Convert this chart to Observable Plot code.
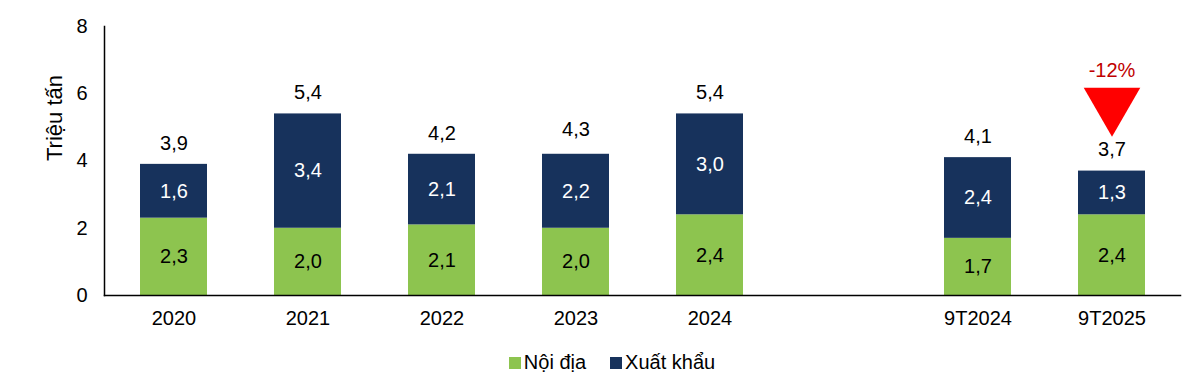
<!DOCTYPE html>
<html>
<head>
<meta charset="utf-8">
<script src="https://cdn.jsdelivr.net/npm/d3@7"></script>
<script src="https://cdn.jsdelivr.net/npm/@observablehq/plot@0.6"></script>
<style>
  html, body { margin: 0; padding: 0; background: #fff; }
  body { width: 1200px; height: 383px; overflow: hidden; font-family: "Liberation Sans", Arial, sans-serif; }
  #legend { display: flex; justify-content: center; gap: 24px; font-size: 20px; color: #000; margin-top: 16px; padding-left: 24px; }
  #legend span.item { display: flex; align-items: center; gap: 3px; }
  #legend span.sw { width: 12px; height: 12px; display: inline-block; }
</style>
</head>
<body>
<div id="chart"></div>
<div id="legend"></div>
<script>
const categories = ["2020", "2021", "2022", "2023", "2024", "9T2024", "9T2025"];
const gapAfter = "2024";
const series = ["Nội địa", "Xuất khẩu"];
const seriesColors = ["#8DC44F", "#17325C"];
const labelColors = ["#000000", "#FFFFFF"];
const noiDia = [2.3, 2.0, 2.1, 2.0, 2.4, 1.7, 2.4];
const xuatKhau = [1.6, 3.4, 2.1, 2.2, 3.0, 2.4, 1.3];
const totals = [3.9, 5.4, 4.2, 4.3, 5.4, 4.1, 3.7];
const yTicks = [0, 2, 4, 6, 8];
const yLabel = "Triệu tấn";
const changeLabel = "-12%";
const changeCategory = "9T2025";

const GAP = "__gap__";
const domain = [];
categories.forEach(c => { domain.push(c); if (c === gapAfter) domain.push(GAP); });

const rows = [];
categories.forEach((c, i) => {
  rows.push({cat: c, series: series[0], value: noiDia[i]});
  rows.push({cat: c, series: series[1], value: xuatKhau[i]});
});
const totalRows = categories.map((c, i) => ({cat: c, total: totals[i]}));
const changeRows = totalRows.filter(d => d.cat === changeCategory);
const fmt = v => v.toFixed(1).replace(".", ",");

const chart = Plot.plot({
  width: 1200,
  height: 335,
  marginLeft: 104,
  marginRight: 20,
  marginTop: 26,
  marginBottom: 40,
  style: {fontFamily: "Liberation Sans, Arial, sans-serif", fontSize: "20px", color: "#000", background: "#fff"},
  x: {domain, paddingInner: 0.5, paddingOuter: 0.25, label: null},
  y: {domain: [0, 8], label: null},
  color: {domain: series, range: seriesColors},
  marks: [
    Plot.barY(rows, {x: "cat", y: "value", fill: "series", order: series}),
    Plot.text(rows, Plot.stackY({x: "cat", y: "value", z: "series", order: series,
      text: d => fmt(d.value),
      fill: d => labelColors[series.indexOf(d.series)],
      fontSize: 20})),
    Plot.text(totalRows, {x: "cat", y: "total", text: d => fmt(d.total), dy: -21, fontSize: 20, fill: "#000"}),
    Plot.dot(changeRows, {x: "cat", y: "total", symbol: "triangle", rotate: 180, r: 21, fill: "#FF0000", stroke: null, dy: -67}),
    Plot.text(changeRows, {x: "cat", y: "total", text: () => changeLabel, dy: -100, fontSize: 20, fill: "#C00000"}),
    Plot.axisX({tickSize: 0, tickPadding: 15, fontSize: 20, tickFormat: d => d === GAP ? "" : d, label: null}),
    Plot.axisY({ticks: yTicks, tickSize: 0, tickPadding: 17, fontSize: 20, label: null, tickFormat: d => String(d)}),
    Plot.text([yLabel], {frameAnchor: "left", dx: -50, rotate: -90, fontSize: 22, fill: "#000"}),
    Plot.frame({anchor: "left", stroke: "#000", strokeWidth: 1.5}),
    Plot.frame({anchor: "bottom", stroke: "#000", strokeWidth: 1.5})
  ]
});
document.getElementById("chart").appendChild(chart);

const legend = document.getElementById("legend");
series.forEach((s, i) => {
  const item = document.createElement("span");
  item.className = "item";
  const sw = document.createElement("span");
  sw.className = "sw";
  sw.style.background = seriesColors[i];
  item.appendChild(sw);
  item.appendChild(document.createTextNode(s));
  legend.appendChild(item);
});
</script>
</body>
</html>
